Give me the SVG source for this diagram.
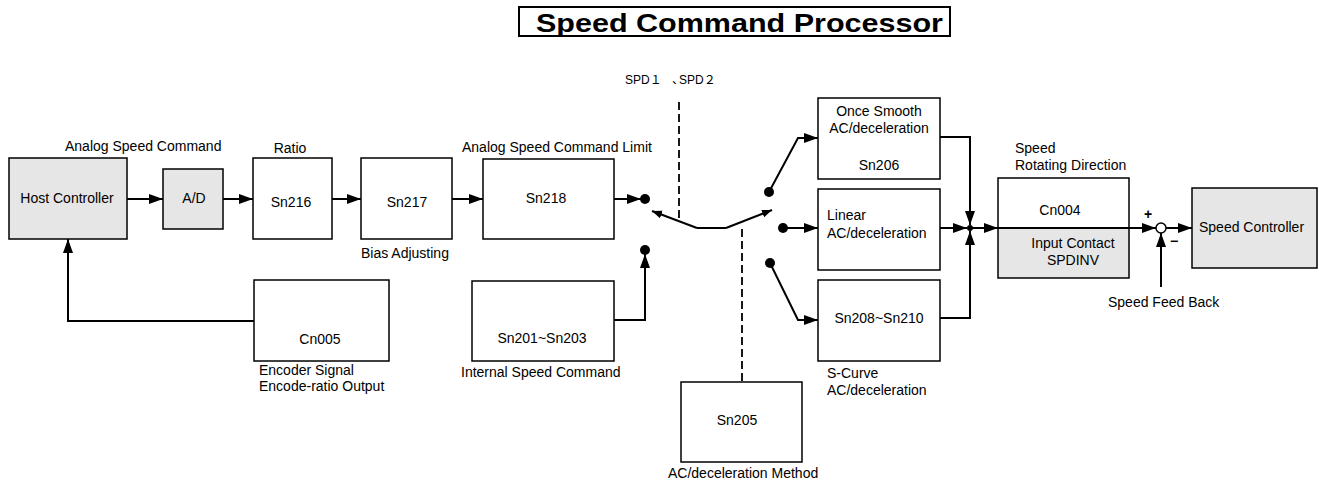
<svg xmlns="http://www.w3.org/2000/svg" width="1319" height="486" viewBox="0 0 1319 486">
<defs>
<style>
.box{fill:#fff;stroke:#000;stroke-width:1.5}
.gray{fill:#e6e6e6;stroke:#000;stroke-width:1.5}
.t{font-family:"Liberation Sans",Arial,sans-serif;font-size:14px;fill:#000}
.c{text-anchor:middle}
.ln{fill:none;stroke:#000;stroke-width:2}
.dash{fill:none;stroke:#000;stroke-width:1.8;stroke-dasharray:8 4}
</style>
<marker id="ar" markerUnits="userSpaceOnUse" markerWidth="15" markerHeight="11" refX="14" refY="5" orient="auto">
<path d="M0,0 L14,5 L0,10 z" fill="#000"/>
</marker>
<marker id="sa" markerUnits="userSpaceOnUse" markerWidth="11" markerHeight="9" refX="10" refY="4" orient="auto">
<path d="M0,0 L10,4 L0,8 z" fill="#000"/>
</marker>
</defs>
<rect width="1319" height="486" fill="#fff"/>

<g id="title">
<rect x="519" y="7" width="431" height="29" fill="#fff" stroke="#000" stroke-width="2"/>
<text x="536" y="32" style="font-family:'Liberation Sans',Arial,sans-serif;font-size:25px;font-weight:bold" textLength="407" lengthAdjust="spacingAndGlyphs">Speed Command Processor</text>
</g>

<g id="host">
<rect class="gray" x="9" y="158" width="118" height="81"/>
<text class="t c" x="67" y="203">Host Controller</text>
<text class="t" x="65" y="151">Analog Speed Command</text>
</g>
<g id="ad">
<rect class="gray" x="163" y="169" width="60" height="60"/>
<text class="t c" x="194" y="203">A/D</text>
</g>
<g id="sn216">
<rect class="box" x="253" y="158" width="79" height="81"/>
<text class="t c" x="291" y="207">Sn216</text>
<text class="t c" x="290" y="153">Ratio</text>
</g>
<g id="sn217">
<rect class="box" x="361" y="158" width="91" height="81"/>
<text class="t c" x="407" y="207">Sn217</text>
<text class="t" x="361" y="258">Bias Adjusting</text>
</g>
<g id="sn218">
<rect class="box" x="483" y="159" width="131" height="80"/>
<text class="t c" x="546" y="203">Sn218</text>
<text class="t" x="462" y="152">Analog Speed Command Limit</text>
</g>
<g id="cn005">
<rect class="box" x="254" y="280" width="135" height="81"/>
<text class="t c" x="320" y="344">Cn005</text>
<text class="t" x="259" y="375">Encoder Signal</text>
<text class="t" x="259" y="391">Encode-ratio Output</text>
</g>
<g id="sn201">
<rect class="box" x="472" y="281" width="142" height="80"/>
<text class="t c" x="542" y="343">Sn201~Sn203</text>
<text class="t" x="461" y="377">Internal Speed Command</text>
</g>
<g id="sn205">
<rect class="box" x="681" y="382" width="121" height="80"/>
<text class="t c" x="737" y="425">Sn205</text>
<text class="t" x="668" y="478">AC/deceleration Method</text>
</g>
<g id="spd">
<text x="625" y="84" dx="0 0 0 0 0 7 -5" style="font-family:'Liberation Sans','Noto Sans CJK SC',sans-serif;font-size:12px">SPD１ 、SPD２</text>
</g>
<g id="sn206">
<rect class="box" x="818" y="98" width="122" height="81"/>
<text class="t c" x="879" y="116">Once Smooth</text>
<text class="t c" x="879" y="133">AC/deceleration</text>
<text class="t c" x="879" y="170">Sn206</text>
</g>
<g id="linear">
<rect class="box" x="818" y="189" width="122" height="81"/>
<text class="t" x="827" y="220">Linear</text>
<text class="t" x="827" y="238">AC/deceleration</text>
</g>
<g id="sn208">
<rect class="box" x="818" y="280" width="122" height="81"/>
<text class="t c" x="879" y="323">Sn208~Sn210</text>
<text class="t" x="827" y="378">S-Curve</text>
<text class="t" x="827" y="395">AC/deceleration</text>
</g>
<g id="cn004">
<rect x="998" y="178" width="131" height="50" fill="#fff"/>
<rect x="998" y="228" width="131" height="50" fill="#e6e6e6"/>
<rect x="998" y="178" width="131" height="100" fill="none" stroke="#000" stroke-width="1.5"/>
<text class="t c" x="1060" y="215">Cn004</text>
<text class="t c" x="1073" y="248">Input Contact</text>
<text class="t c" x="1073" y="265">SPDINV</text>
<text class="t" x="1015" y="153">Speed</text>
<text class="t" x="1015" y="170">Rotating Direction</text>
</g>
<g id="sum">
<circle cx="1161" cy="228" r="5" fill="#fff" stroke="#000" stroke-width="1.5"/>
<text x="1148" y="219" class="t c" style="font-weight:bold">+</text>
<text x="1174" y="246" class="t c" style="font-weight:bold">−</text>
<text class="t" x="1108" y="307">Speed Feed Back</text>
</g>
<g id="speedctrl">
<rect class="gray" x="1192" y="188" width="125" height="80"/>
<text class="t" x="1199" y="232">Speed Controller</text>
</g>

<g id="connectors">
<path class="ln" d="M127,199 H163" marker-end="url(#ar)"/>
<path class="ln" d="M223,199 H253" marker-end="url(#ar)"/>
<path class="ln" d="M332,199 H361" marker-end="url(#ar)"/>
<path class="ln" d="M452,199 H483" marker-end="url(#ar)"/>
<path class="ln" d="M614,199 H641" marker-end="url(#ar)"/>
<path class="ln" d="M254,321 H68 V239" marker-end="url(#ar)"/>
<path class="ln" d="M614,320 H645 V254" marker-end="url(#ar)"/>
<path class="ln" d="M697,228 L652,211" marker-end="url(#sa)"/>
<path class="ln" d="M697,228 H726"/>
<path class="ln" d="M726,228 L772,210" marker-end="url(#sa)"/>
<path class="dash" d="M679,102 V221"/>
<path class="dash" d="M742,229 V382"/>
<path class="ln" d="M769,192 L798,138 H818" marker-end="url(#ar)"/>
<path class="ln" d="M783,228 H818" marker-end="url(#ar)"/>
<path class="ln" d="M770,263 L798,320 H818" marker-end="url(#ar)"/>
<path class="ln" d="M940,137 H970 V225" marker-end="url(#ar)"/>
<path class="ln" d="M940,228 H967" marker-end="url(#ar)"/>
<path class="ln" d="M940,318 H970 V231" marker-end="url(#ar)"/>
<path class="ln" d="M970,228 H998" marker-end="url(#ar)"/>
<path class="ln" d="M998,228 H1156" marker-end="url(#ar)"/>
<path class="ln" d="M1166,228 H1192" marker-end="url(#ar)"/>
<path class="ln" d="M1161,287 V233" marker-end="url(#ar)"/>
<circle cx="645" cy="199" r="5"/>
<circle cx="645" cy="250" r="5"/>
<circle cx="769" cy="192" r="5"/>
<circle cx="783" cy="228" r="5"/>
<circle cx="770" cy="263" r="5"/>
<circle cx="970" cy="228" r="3"/>
</g>
</svg>
